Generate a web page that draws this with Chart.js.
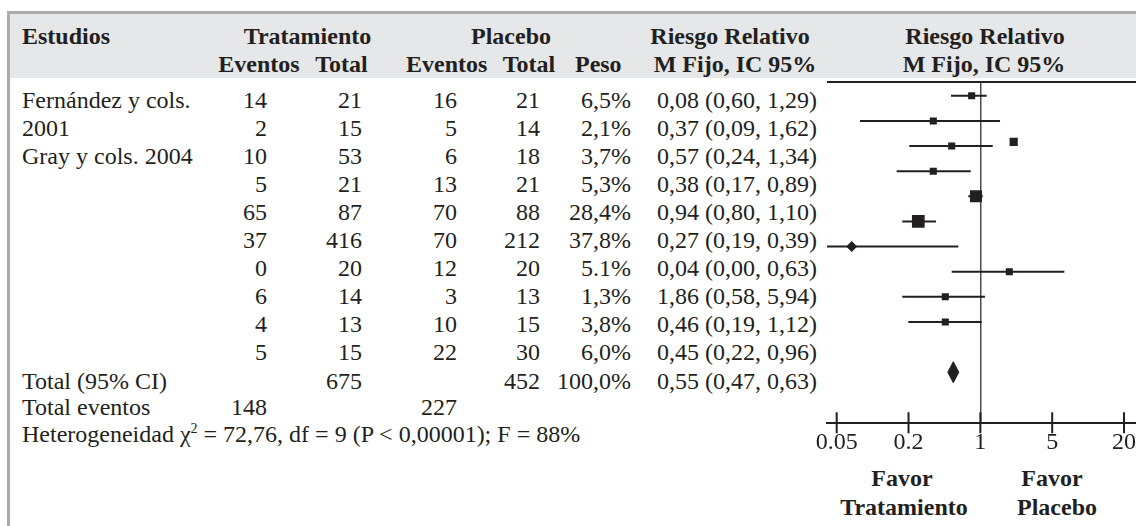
<!DOCTYPE html>
<html lang="es">
<head>
<meta charset="UTF-8">
<title>Riesgo relativo - metaanálisis</title>
<script src="https://cdn.jsdelivr.net/npm/chart.js@4.4.0/dist/chart.umd.min.js"></script>
<style>
  html, body { margin: 0; padding: 0; background: #fff; }
  body { width: 1136px; height: 526px; overflow: hidden; position: relative; }
  .marco { position: absolute; left: 7px; top: 11px; right: -10px; bottom: -10px;
           border-left: 3px solid #a9abae; border-top: 3px solid #a9abae; }
  .cabecera { position: absolute; left: 10px; top: 14px; width: 1130px; height: 64px; background: #e6e7e8; }
  .t { position: absolute; white-space: nowrap; line-height: 28px; font-family: 'Liberation Serif', 'Times New Roman', serif;
       font-size: 24px; color: #231f20; }
  .b { font-weight: bold; }
  .t sup { font-size: 14px; line-height: 0; }
  canvas { position: absolute; left: 0; top: 0; }
</style>
</head>
<body>
<div class="marco"></div>
<div class="cabecera"></div>
<div id="tabla"></div>
<canvas id="forest" width="1180" height="526"></canvas>

<script>
// --- tabla ---
const estudios = ["Fernández y cols.", "2001", "Gray y cols. 2004", "", "", "", "", "", "", ""];
const tratEventos = [14, 2, 10, 5, 65, 37, 0, 6, 4, 5];
const tratTotal = [21, 15, 53, 21, 87, 416, 20, 14, 13, 15];
const placEventos = [16, 5, 6, 13, 70, 70, 12, 3, 10, 22];
const placTotal = [21, 14, 18, 21, 88, 212, 20, 13, 15, 30];
const peso = ["6,5%", "2,1%", "3,7%", "5,3%", "28,4%", "37,8%", "5.1%", "1,3%", "3,8%", "6,0%"];
const pesoNum = [6.5, 2.1, 3.7, 5.3, 28.4, 37.8, 5.1, 1.3, 3.8, 6.0];
const rrTexto = [
  "0,08 (0,60, 1,29)", "0,37 (0,09, 1,62)", "0,57 (0,24, 1,34)", "0,38 (0,17, 0,89)",
  "0,94 (0,80, 1,10)", "0,27 (0,19, 0,39)", "0,04 (0,00, 0,63)", "1,86 (0,58, 5,94)",
  "0,46 (0,19, 1,12)", "0,45 (0,22, 0,96)"
];
const totalTratTotal = 675;
const totalPlacTotal = 452;
const totalPeso = "100,0%";
const totalRR = "0,55 (0,47, 0,63)";
const totalTratEventos = 148;
const totalPlacEventos = 227;

// --- forest plot (x en posiciones del eje: 0=0.05, 1=0.2, 2=1, 3=5, 4=20) ---
const forestFila = [1, 2, 3, 4, 5, 6, 7, 8, 9, 10];
const forestPunto = [1.879, 1.345, 1.601, 1.345, 1.939, 1.136, 0.209, 2.403, 1.512, 1.512];
const forestInf = [1.591, 0.324, 1.011, 0.835, 1.832, 0.913, -0.139, 1.601, 0.913, 0.997];
const forestSup = [2.088, 2.273, 2.172, 1.866, 2.033, 1.382, 1.693, 3.169, 2.065, 2.019];
const sueltoX = [2.464];
const sueltoFila = [2.83];
const totalFila = 12;
const totalPunto = 1.623;
const totalInf = 1.547;
const totalSup = 1.700;
const ticksPos = [0, 1, 2, 3, 4];
const ticksEtiqueta = ["0.05", "0.2", "1", "5", "20"];

// ---------------------------------------------------------------
const tabla = document.getElementById('tabla');
function texto(str, x, yc, align, bold) {
  const el = document.createElement('div');
  el.className = 't' + (bold ? ' b' : '');
  el.textContent = str;
  el.style.top = (yc - 14) + 'px';
  el.style.left = x + 'px';
  if (align === 'right') el.style.transform = 'translateX(-100%)';
  if (align === 'center') el.style.transform = 'translateX(-50%)';
  tabla.appendChild(el);
  return el;
}

// cabecera
texto("Estudios", 22, 36, 'left', true);
texto("Tratamiento", 307.5, 36, 'center', true);
texto("Placebo", 511, 36, 'center', true);
texto("Riesgo Relativo", 730, 36, 'center', true);
texto("Riesgo Relativo", 985, 36, 'center', true);
texto("Eventos", 259, 64, 'center', true);
texto("Total", 341.5, 64, 'center', true);
texto("Eventos", 446.7, 64, 'center', true);
texto("Total", 529, 64, 'center', true);
texto("Peso", 598.3, 64, 'center', true);
texto("M Fijo, IC 95%", 735, 64, 'center', true);
texto("M Fijo, IC 95%", 984, 64, 'center', true);

// filas
const filaY = i => 99.5 + 28.1 * i;
estudios.forEach((e, i) => {
  const y = filaY(i);
  if (e) texto(e, 22, y, 'left');
  texto(String(tratEventos[i]), 267, y, 'right');
  texto(String(tratTotal[i]), 362, y, 'right');
  texto(String(placEventos[i]), 457, y, 'right');
  texto(String(placTotal[i]), 540, y, 'right');
  texto(peso[i], 631, y, 'right');
  texto(rrTexto[i], 657, y, 'left');
});
const yTot = filaY(10);
texto("Total (95% CI)", 22, yTot, 'left');
texto(String(totalTratTotal), 362, yTot, 'right');
texto(String(totalPlacTotal), 540, yTot, 'right');
texto(totalPeso, 631, yTot, 'right');
texto(totalRR, 657, yTot, 'left');
texto("Total eventos", 22, 407, 'left');
texto(String(totalTratEventos), 267, 407, 'right');
texto(String(totalPlacEventos), 457, 407, 'right');
const het = texto("", 22, 434, 'left');
het.innerHTML = "Heterogeneidad &chi;<sup>2</sup> = 72,76, df = 9 (P &lt; 0,00001); F = 88%";

texto("Favor", 902, 478, 'center', true);
texto("Tratamiento", 904, 507, 'center', true);
texto("Favor", 1052, 478, 'center', true);
texto("Placebo", 1057, 507, 'center', true);

// ---------------------------------------------------------------
const TINTA = '#231f20';

const ciData = [];
forestFila.forEach((f, i) => {
  ciData.push({ x: forestInf[i], y: f }, { x: forestSup[i], y: f }, { x: null, y: null });
});
const puntos = forestFila.map((f, i) => ({ x: forestPunto[i], y: f }));
const sueltos = sueltoX.map((x, i) => ({ x, y: sueltoFila[i] }));
const medioAlto = 0.418; // media altura del rombo en filas
const rombo = [
  { x: totalInf, y: totalFila },
  { x: totalPunto, y: totalFila - medioAlto },
  { x: totalSup, y: totalFila },
  { x: totalPunto, y: totalFila + medioAlto },
  { x: totalInf, y: totalFila }
];

const marcoPlot = {
  id: 'marcoPlot',
  afterDraw(chart) {
    const { ctx, chartArea, scales: { x } } = chart;
    ctx.save();
    ctx.strokeStyle = TINTA;
    ctx.lineWidth = 2;
    ctx.beginPath();
    ctx.moveTo(chartArea.left, chartArea.top);
    ctx.lineTo(chartArea.right, chartArea.top);
    x.ticks.forEach(t => {
      const px = x.getPixelForValue(t.value);
      ctx.moveTo(px, chartArea.bottom - 11);
      ctx.lineTo(px, chartArea.bottom + 10);
    });
    ctx.stroke();
    ctx.restore();
  }
};

new Chart(document.getElementById('forest'), {
  type: 'scatter',
  data: {
    datasets: [
      {
        label: 'IC 95%',
        data: ciData,
        showLine: true,
        spanGaps: false,
        borderColor: TINTA,
        borderWidth: 2,
        pointRadius: 0
      },
      {
        label: 'Riesgo relativo',
        data: puntos,
        pointStyle: ctx => ctx.dataIndex === 6 ? 'rectRot' : 'rect',
        pointRadius: ctx => pesoNum[ctx.dataIndex] > 30 ? 9 : pesoNum[ctx.dataIndex] > 20 ? 8.5 : (ctx.dataIndex === 6 ? 5.5 : 5),
        backgroundColor: TINTA,
        borderWidth: 0
      },
      {
        label: 'suelto',
        data: sueltos,
        pointStyle: 'rect',
        pointRadius: 5.8,
        backgroundColor: TINTA,
        borderWidth: 0
      },
      {
        label: 'Total',
        data: rombo,
        showLine: true,
        tension: 0,
        fill: 'shape',
        backgroundColor: TINTA,
        borderColor: TINTA,
        borderWidth: 1,
        pointRadius: 0
      }
    ]
  },
  options: {
    responsive: false,
    animation: false,
    events: [],
    layout: { padding: { left: 827, right: 10, top: 82, bottom: 64 } },
    plugins: { legend: { display: false }, tooltip: { enabled: false } },
    scales: {
      x: {
        type: 'linear',
        min: -0.135,
        max: 4.64,
        afterBuildTicks: axis => { axis.ticks = ticksPos.map(v => ({ value: v })); },
        ticks: {
          autoSkip: false,
          maxRotation: 0,
          padding: 5,
          color: TINTA,
          font: { family: "'Liberation Serif', 'Times New Roman', serif", size: 24 },
          callback: (v, i) => ticksEtiqueta[i]
        },
        grid: {
          drawOnChartArea: true,
          drawTicks: false,
          lineWidth: 1.5,
          color: ctx => (ctx.tick && ctx.tick.value === 2) ? '#4d4d4d' : 'rgba(0,0,0,0)'
        },
        border: { display: true, color: TINTA, width: 2 }
      },
      y: {
        type: 'linear',
        display: false,
        reverse: true,
        min: 0.45,
        max: 14.03
      }
    }
  },
  plugins: [marcoPlot]
});
</script>
</body>
</html>
